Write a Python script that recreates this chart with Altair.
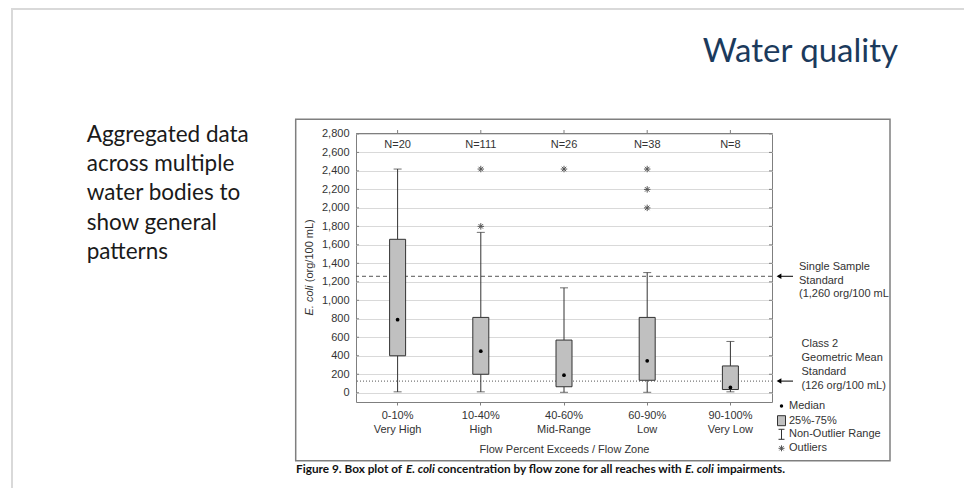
import altair as alt
import pandas as pd

# ---------------- data ----------------
zones = ["0-10%", "10-40%", "40-60%", "60-90%", "90-100%"]
zone_names = ["Very High", "High", "Mid-Range", "Low", "Very Low"]
n_counts = [20, 111, 26, 38, 8]
whisker_low = [10, 10, 5, 5, 10]
q1 = [400, 200, 65, 135, 35]
median = [790, 450, 190, 345, 58]
q3 = [1660, 815, 570, 815, 290]
whisker_high = [2420, 1735, 1135, 1300, 555]
outlier_zone = ["10-40%", "10-40%", "40-60%", "60-90%", "60-90%", "60-90%"]
outlier_value = [1800, 2420, 2420, 2420, 2200, 2000]
single_sample_std = 1260
geomean_std = 126
y_ticks = list(range(0, 2801, 200))

slide_title = "Water quality"
slide_lines = ["Aggregated data", "across multiple", "water bodies to", "show general", "patterns"]
annot1 = ["Single Sample", "Standard", "(1,260 org/100 mL"]
annot2 = ["Class 2", "Geometric Mean", "Standard", "(126 org/100 mL)"]
legend_labels = ["Median", "25%-75%", "Non-Outlier Range", "Outliers"]
caption_parts = [("Figure 9. Box plot of", "normal"), ("E. coli", "italic"),
                 ("concentration by flow zone for all reaches with", "normal"),
                 ("E. coli", "italic"), ("impairments.", "normal")]

cats = [f"{z}|{n}" for z, n in zip(zones, zone_names)]
box_df = pd.DataFrame({"cat": cats, "n": [f"N={c}" for c in n_counts],
                       "low": whisker_low, "q1": q1, "med": median,
                       "q3": q3, "high": whisker_high})
out_df = pd.DataFrame({"cat": [cats[zones.index(z)] for z in outlier_zone],
                       "value": outlier_value})
std_df = pd.DataFrame({"v": [single_sample_std, geomean_std]})
tick_df = pd.DataFrame({"v": y_ticks})
dummy = pd.DataFrame({"a": [0]})

FONT = "Liberation Sans"
SLIDE_FONT = "Lato"
TXT = "#333333"

x_scale = alt.Scale(domain=cats, paddingInner=0, paddingOuter=0)
y_scale = alt.Scale(domain=[-100, 2810], nice=False, zero=False)
x_axis = alt.Axis(title="Flow Percent Exceeds / Flow Zone",
                  labelExpr="split(datum.label, '|')", labelAngle=0,
                  labelFontSize=11, labelLineHeight=14, labelPadding=4,
                  tickSize=3, tickColor="#7F7F7F", domain=False, grid=False,
                  titleFontSize=11, titleFontWeight="normal", titlePadding=9)
y_axis = alt.Axis(values=y_ticks, format=",d", title=None, grid=True,
                  gridColor="#D9D9D9", domain=False, tickSize=0,
                  labelFontSize=11, labelPadding=7)

X = alt.X("cat:N", scale=x_scale, sort=cats, axis=x_axis)


def Y(field):
    return alt.Y(field, scale=y_scale, axis=y_axis)


layers = []
base = alt.Chart(box_df)

# reference lines
layers.append(alt.Chart(std_df).transform_filter(alt.datum.v > 1000)
              .mark_rule(color="#555555", strokeDash=[4, 3], strokeWidth=1)
              .encode(y=Y("v:Q")))
layers.append(alt.Chart(std_df).transform_filter(alt.datum.v < 1000)
              .mark_rule(color="#555555", strokeDash=[1, 2], strokeWidth=1)
              .encode(y=Y("v:Q")))

# whiskers
layers.append(base.mark_rule(color="#333333", strokeWidth=1)
              .encode(x=X, y=Y("low:Q"), y2="q1:Q"))
layers.append(base.mark_rule(color="#333333", strokeWidth=1)
              .encode(x=X, y=Y("q3:Q"), y2="high:Q"))
layers.append(base.mark_tick(color="#333333", size=8, thickness=1)
              .encode(x=X, y=Y("low:Q")))
layers.append(base.mark_tick(color="#333333", size=8, thickness=1)
              .encode(x=X, y=Y("high:Q")))
# boxes
layers.append(base.mark_bar(size=16, fill="#C0C0C0", stroke="#333333", strokeWidth=1)
              .encode(x=X, y=Y("q1:Q"), y2="q3:Q"))
# median
layers.append(base.mark_circle(size=14, color="black", opacity=1)
              .encode(x=X, y=Y("med:Q")))
# outliers
ASTER = "M-1,0L1,0M0,-1L0,1M-0.7,-0.7L0.7,0.7M-0.7,0.7L0.7,-0.7"
layers.append(alt.Chart(out_df).mark_point(shape=ASTER, size=42, filled=False,
                                           stroke="#555555", strokeWidth=1, opacity=1)
              .encode(x=X, y=Y("value:Q")))
# N labels
layers.append(base.mark_text(font=FONT, fontSize=11, color=TXT, baseline="middle")
              .encode(x=X, y=alt.value(12), text="n:N"))
# top ticks
layers.append(base.mark_rule(color="#7F7F7F")
              .encode(x=X, y=alt.value(-3), y2=alt.value(0)))
# inward side ticks
layers.append(alt.Chart(tick_df).mark_rule(color="#7F7F7F")
              .encode(x=alt.value(0), x2=alt.value(3), y=Y("v:Q")))
layers.append(alt.Chart(tick_df).mark_rule(color="#7F7F7F")
              .encode(x=alt.value(413), x2=alt.value(416), y=Y("v:Q")))
# arrows
layers.append(alt.Chart(std_df).mark_rule(color="black", strokeWidth=1)
              .encode(x=alt.value(423), x2=alt.value(437), y=Y("v:Q")))
layers.append(alt.Chart(std_df).mark_point(shape="triangle-left", size=30, filled=True,
                                           color="black", opacity=1)
              .encode(x=alt.value(423), y=Y("v:Q")))


def text_layer(t, x, y, **kw):
    props = dict(font=FONT, fontSize=11, color=TXT, align="left", baseline="middle")
    props.update(kw)
    return alt.Chart(dummy).mark_text(text=t, **props).encode(
        x=alt.value(x), y=alt.value(y))


# annotations
for i, t in enumerate(annot1):
    layers.append(text_layer(t, 443, 133.7 + 13.8 * i))
for i, t in enumerate(annot2):
    layers.append(text_layer(t, 445.5, 211.3 + 13.8 * i))

# legend
leg_y = [273, 287.7, 301.3, 315.3]
layers.append(alt.Chart(dummy).mark_circle(size=12, color="black", opacity=1)
              .encode(x=alt.value(425.5), y=alt.value(leg_y[0])))
layers.append(alt.Chart(dummy).mark_point(shape="M-0.8,-1L0.8,-1L0.8,1L-0.8,1Z", size=100,
                                          filled=True, fill="#C0C0C0", stroke="#333333",
                                          strokeWidth=1, opacity=1)
              .encode(x=alt.value(425.5), y=alt.value(leg_y[1])))
layers.append(alt.Chart(dummy).mark_point(shape="M-0.6,-1L0.6,-1M0,-1L0,1M-0.6,1L0.6,1",
                                          size=100, filled=False, stroke="#333333",
                                          strokeWidth=1, opacity=1)
              .encode(x=alt.value(425.5), y=alt.value(leg_y[2])))
layers.append(alt.Chart(dummy).mark_point(shape=ASTER, size=36, filled=False,
                                          stroke="#555555", strokeWidth=1, opacity=1)
              .encode(x=alt.value(425.5), y=alt.value(leg_y[3])))
for t, yy in zip(legend_labels, leg_y):
    layers.append(text_layer(t, 433, yy))

# y title (italic species name + units)
layers.append(text_layer("E. coli", -46, 152.5, angle=270, align="right", fontStyle="italic"))
layers.append(text_layer("(org/100 mL)", -46, 149.2, angle=270, align="left"))

# figure frame
layers.append(alt.Chart(dummy).mark_rect(fill="transparent", stroke="#7F7F7F", strokeWidth=1.5)
              .encode(x=alt.value(-60.3), x2=alt.value(534), y=alt.value(-13.7), y2=alt.value(327.7)))

# caption
cap_x = [-60, 50, 81.5, 329, 361]
for (t, st), xx in zip(caption_parts, cap_x):
    layers.append(text_layer(t, xx, 336, font=SLIDE_FONT, fontSize=11.8, fontWeight="bold",
                             fontStyle=st, color="#111111"))

# slide border
layers.append(alt.Chart(dummy).mark_rule(color="#D9D9D9", strokeWidth=2)
              .encode(x=alt.value(-344), y=alt.value(-124), y2=alt.value(370)))
layers.append(alt.Chart(dummy).mark_rule(color="#D9D9D9", strokeWidth=2)
              .encode(x=alt.value(-345), x2=alt.value(610), y=alt.value(-124)))

# slide title
layers.append(text_layer(slide_title, 542, -71.3, font=SLIDE_FONT, fontSize=33,
                         align="right", baseline="alphabetic", color="#1B3A5C"))
# slide body text
for i, t in enumerate(slide_lines):
    layers.append(text_layer(t, -269.3, 8.7 + 29.3 * i, font=SLIDE_FONT, fontSize=22.5,
                             baseline="alphabetic", color="#1A1A1A"))

chart = alt.layer(*layers).properties(
    width=416, height=269,
    autosize=alt.AutoSizeParams(type="none"),
    padding={"left": 348, "top": 125, "right": 192, "bottom": 86},
    background="white",
).configure_view(stroke="#7F7F7F", strokeWidth=1).configure_axis(
    labelFont=FONT, titleFont=FONT, labelColor=TXT, titleColor=TXT)

chart.save("out.html", embed_options={"renderer": "svg", "actions": False})
